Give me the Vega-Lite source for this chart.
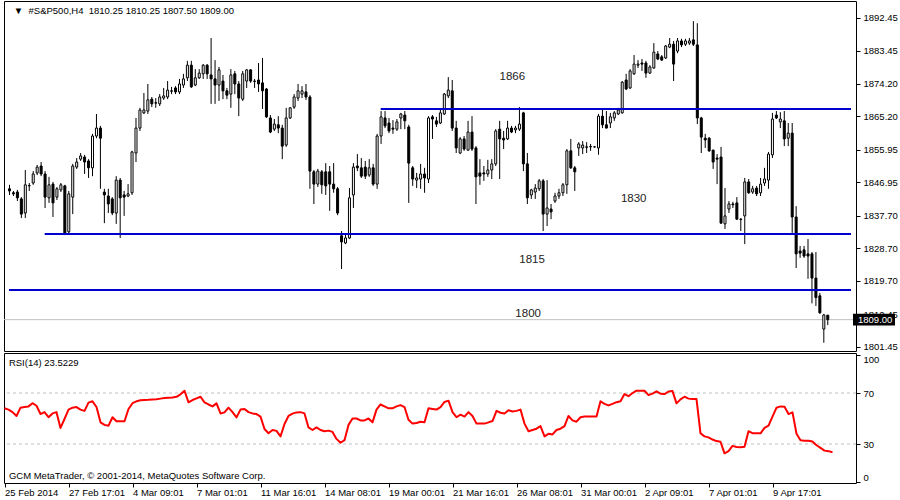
{
"$schema": "https://vega.github.io/schema/vega-lite/v6.json",
"background": "white",
"padding": {"left": 3, "top": 0, "right": 2, "bottom": 0},
"bounds": "flush",
"spacing": 2,
"datasets": {
"k": [
{"i":0,"o":1845.2,"h":1846.3,"l":1843.5,"c":1844.6,"r":58},
{"i":1,"o":1844.1,"h":1844.6,"l":1843.2,"c":1843.8,"r":57},
{"i":2,"o":1844.3,"h":1844.9,"l":1841.8,"c":1842.7,"r":55},
{"i":3,"o":1842.4,"h":1842.9,"l":1837.1,"c":1838.2,"r":52},
{"i":4,"o":1838.5,"h":1850.4,"l":1837.1,"c":1846.3,"r":58.5},
{"i":5,"o":1846.0,"h":1846.8,"l":1844.6,"c":1846.1,"r":59},
{"i":6,"o":1846.8,"h":1850.1,"l":1846.3,"c":1849.3,"r":59.5},
{"i":7,"o":1849.6,"h":1851.8,"l":1849.0,"c":1851.2,"r":62},
{"i":8,"o":1851.5,"h":1852.6,"l":1848.7,"c":1849.3,"r":60},
{"i":9,"o":1849.3,"h":1850.1,"l":1839.9,"c":1842.9,"r":53.5},
{"i":10,"o":1842.7,"h":1848.5,"l":1841.3,"c":1846.3,"r":55},
{"i":11,"o":1846.5,"h":1847.1,"l":1837.4,"c":1841.3,"r":51},
{"i":12,"o":1842.9,"h":1845.7,"l":1842.1,"c":1845.2,"r":54},
{"i":13,"o":1844.9,"h":1846.8,"l":1844.3,"c":1846.3,"r":55},
{"i":14,"o":1846.0,"h":1846.3,"l":1832.4,"c":1833.0,"r":42.6},
{"i":15,"o":1833.3,"h":1844.6,"l":1832.7,"c":1843.8,"r":49.6},
{"i":16,"o":1842.9,"h":1852.1,"l":1838.2,"c":1851.5,"r":57},
{"i":17,"o":1851.2,"h":1853.7,"l":1850.7,"c":1852.6,"r":58.5},
{"i":18,"o":1853.4,"h":1855.1,"l":1852.9,"c":1854.3,"r":59},
{"i":19,"o":1854.0,"h":1854.6,"l":1849.3,"c":1852.6,"r":57},
{"i":20,"o":1852.9,"h":1853.4,"l":1848.2,"c":1851.0,"r":56},
{"i":21,"o":1851.0,"h":1860.4,"l":1848.7,"c":1859.8,"r":62.5},
{"i":22,"o":1859.8,"h":1865.9,"l":1859.2,"c":1862.0,"r":63.5},
{"i":23,"o":1862.0,"h":1862.6,"l":1845.2,"c":1859.2,"r":59},
{"i":24,"o":1844.3,"h":1845.2,"l":1835.7,"c":1843.5,"r":47},
{"i":25,"o":1843.2,"h":1845.2,"l":1838.5,"c":1841.0,"r":45},
{"i":26,"o":1842.4,"h":1842.9,"l":1837.9,"c":1838.5,"r":44.4},
{"i":27,"o":1838.5,"h":1848.7,"l":1835.5,"c":1847.6,"r":51},
{"i":28,"o":1847.6,"h":1848.2,"l":1831.6,"c":1842.7,"r":47.8},
{"i":29,"o":1843.5,"h":1844.6,"l":1837.7,"c":1842.9,"r":47.8},
{"i":30,"o":1843.2,"h":1846.5,"l":1842.9,"c":1843.8,"r":47.8},
{"i":31,"o":1844.1,"h":1855.7,"l":1843.5,"c":1855.4,"r":57.5},
{"i":32,"o":1855.1,"h":1864.8,"l":1852.6,"c":1862.0,"r":62},
{"i":33,"o":1862.0,"h":1867.6,"l":1861.2,"c":1867.0,"r":63.5},
{"i":34,"o":1866.2,"h":1871.7,"l":1865.9,"c":1867.0,"r":64.3},
{"i":35,"o":1866.7,"h":1874.2,"l":1865.9,"c":1869.8,"r":64.6},
{"i":36,"o":1870.0,"h":1870.6,"l":1867.8,"c":1868.7,"r":64.7},
{"i":37,"o":1869.0,"h":1870.3,"l":1867.6,"c":1868.9,"r":64.9},
{"i":38,"o":1868.7,"h":1871.4,"l":1868.1,"c":1870.6,"r":65.1},
{"i":39,"o":1870.3,"h":1873.1,"l":1869.8,"c":1870.9,"r":65.6},
{"i":40,"o":1870.6,"h":1875.0,"l":1870.0,"c":1872.5,"r":66.1},
{"i":41,"o":1872.3,"h":1873.4,"l":1871.4,"c":1872.2,"r":66.3},
{"i":42,"o":1873.1,"h":1873.6,"l":1871.4,"c":1872.0,"r":66.5},
{"i":43,"o":1872.0,"h":1875.6,"l":1871.4,"c":1874.2,"r":67},
{"i":44,"o":1873.9,"h":1877.0,"l":1873.1,"c":1875.6,"r":69},
{"i":45,"o":1875.9,"h":1880.6,"l":1875.0,"c":1879.4,"r":71.8},
{"i":46,"o":1879.4,"h":1880.6,"l":1873.1,"c":1873.4,"r":62.7},
{"i":47,"o":1873.9,"h":1878.3,"l":1873.6,"c":1875.9,"r":64.5},
{"i":48,"o":1875.9,"h":1878.3,"l":1875.6,"c":1877.2,"r":65.8},
{"i":49,"o":1877.0,"h":1879.7,"l":1875.6,"c":1879.4,"r":67.1},
{"i":50,"o":1879.4,"h":1879.7,"l":1875.6,"c":1877.0,"r":62.7},
{"i":51,"o":1876.7,"h":1886.9,"l":1868.7,"c":1875.6,"r":61},
{"i":52,"o":1875.6,"h":1880.8,"l":1868.7,"c":1873.9,"r":59.5},
{"i":53,"o":1873.9,"h":1878.9,"l":1869.5,"c":1878.1,"r":61.9},
{"i":54,"o":1875.0,"h":1876.7,"l":1870.0,"c":1872.3,"r":54},
{"i":55,"o":1872.3,"h":1873.1,"l":1870.0,"c":1871.1,"r":54.8},
{"i":56,"o":1871.4,"h":1878.3,"l":1867.6,"c":1876.7,"r":58.5},
{"i":57,"o":1877.0,"h":1877.8,"l":1871.4,"c":1874.2,"r":55},
{"i":58,"o":1874.2,"h":1875.0,"l":1865.3,"c":1870.3,"r":50.9},
{"i":59,"o":1870.0,"h":1877.8,"l":1869.5,"c":1877.0,"r":57},
{"i":60,"o":1875.0,"h":1878.3,"l":1873.1,"c":1878.1,"r":57.5},
{"i":61,"o":1878.1,"h":1878.3,"l":1874.5,"c":1875.0,"r":55},
{"i":62,"o":1875.0,"h":1875.6,"l":1873.1,"c":1874.9,"r":54},
{"i":63,"o":1875.3,"h":1880.0,"l":1872.0,"c":1874.2,"r":53.5},
{"i":64,"o":1874.5,"h":1881.4,"l":1867.3,"c":1872.3,"r":51.5},
{"i":65,"o":1872.8,"h":1873.1,"l":1864.8,"c":1865.1,"r":41.8},
{"i":66,"o":1864.8,"h":1865.6,"l":1860.6,"c":1860.9,"r":38.4},
{"i":67,"o":1861.7,"h":1864.5,"l":1861.2,"c":1863.1,"r":41},
{"i":68,"o":1862.9,"h":1865.3,"l":1860.6,"c":1862.0,"r":40.3},
{"i":69,"o":1862.0,"h":1862.9,"l":1853.4,"c":1857.0,"r":36},
{"i":70,"o":1857.3,"h":1867.6,"l":1856.8,"c":1864.8,"r":45.7},
{"i":71,"o":1864.8,"h":1867.8,"l":1864.5,"c":1867.6,"r":52},
{"i":72,"o":1867.8,"h":1871.4,"l":1867.3,"c":1870.6,"r":53.8},
{"i":73,"o":1870.3,"h":1874.2,"l":1869.5,"c":1872.3,"r":54.8},
{"i":74,"o":1871.4,"h":1873.6,"l":1870.3,"c":1872.3,"r":55},
{"i":75,"o":1872.0,"h":1874.2,"l":1869.8,"c":1870.6,"r":54},
{"i":76,"o":1870.6,"h":1871.1,"l":1845.2,"c":1850.1,"r":43},
{"i":77,"o":1849.9,"h":1850.4,"l":1841.0,"c":1846.5,"r":41},
{"i":78,"o":1846.5,"h":1850.7,"l":1845.7,"c":1850.1,"r":43},
{"i":79,"o":1849.9,"h":1850.4,"l":1843.8,"c":1846.3,"r":41},
{"i":80,"o":1849.9,"h":1852.3,"l":1843.5,"c":1846.0,"r":40},
{"i":81,"o":1849.9,"h":1851.5,"l":1839.1,"c":1846.5,"r":40.5},
{"i":82,"o":1846.5,"h":1852.3,"l":1844.1,"c":1845.2,"r":39.5},
{"i":83,"o":1845.2,"h":1845.7,"l":1837.9,"c":1838.5,"r":34},
{"i":84,"o":1832.2,"h":1833.5,"l":1823.0,"c":1830.5,"r":31},
{"i":85,"o":1830.2,"h":1832.7,"l":1829.9,"c":1831.6,"r":33},
{"i":86,"o":1831.6,"h":1845.4,"l":1831.3,"c":1842.7,"r":45},
{"i":87,"o":1843.5,"h":1852.3,"l":1839.9,"c":1851.2,"r":50},
{"i":88,"o":1851.5,"h":1854.8,"l":1850.1,"c":1851.0,"r":50},
{"i":89,"o":1851.0,"h":1853.7,"l":1848.2,"c":1848.7,"r":48.5},
{"i":90,"o":1851.2,"h":1852.9,"l":1847.9,"c":1848.7,"r":48.5},
{"i":91,"o":1849.0,"h":1853.4,"l":1848.5,"c":1851.0,"r":50},
{"i":92,"o":1851.0,"h":1852.1,"l":1846.0,"c":1846.5,"r":47},
{"i":93,"o":1846.5,"h":1860.4,"l":1845.2,"c":1859.8,"r":57},
{"i":94,"o":1859.8,"h":1866.7,"l":1857.6,"c":1865.1,"r":61},
{"i":95,"o":1864.8,"h":1866.7,"l":1862.0,"c":1862.6,"r":59.5},
{"i":96,"o":1863.4,"h":1864.8,"l":1860.6,"c":1861.2,"r":58},
{"i":97,"o":1862.0,"h":1864.2,"l":1860.4,"c":1861.7,"r":58},
{"i":98,"o":1861.7,"h":1864.5,"l":1861.2,"c":1863.7,"r":59.5},
{"i":99,"o":1864.8,"h":1866.2,"l":1861.7,"c":1865.9,"r":60.5},
{"i":100,"o":1865.6,"h":1866.7,"l":1861.7,"c":1864.0,"r":59},
{"i":101,"o":1862.3,"h":1862.9,"l":1841.3,"c":1852.3,"r":49},
{"i":102,"o":1851.0,"h":1851.5,"l":1846.0,"c":1847.9,"r":46},
{"i":103,"o":1847.6,"h":1849.6,"l":1845.4,"c":1848.2,"r":46.5},
{"i":104,"o":1847.9,"h":1852.1,"l":1845.2,"c":1849.3,"r":47.5},
{"i":105,"o":1849.3,"h":1851.0,"l":1844.1,"c":1848.2,"r":47},
{"i":106,"o":1847.9,"h":1865.3,"l":1846.8,"c":1864.8,"r":58},
{"i":107,"o":1865.1,"h":1865.6,"l":1859.0,"c":1864.5,"r":57.5},
{"i":108,"o":1864.0,"h":1865.1,"l":1862.3,"c":1863.1,"r":57},
{"i":109,"o":1863.4,"h":1867.0,"l":1863.1,"c":1866.2,"r":59},
{"i":110,"o":1865.9,"h":1871.7,"l":1865.6,"c":1871.4,"r":63},
{"i":111,"o":1870.9,"h":1876.1,"l":1870.3,"c":1872.5,"r":64},
{"i":112,"o":1872.3,"h":1875.3,"l":1861.2,"c":1862.0,"r":55},
{"i":113,"o":1862.0,"h":1864.0,"l":1855.1,"c":1856.5,"r":51},
{"i":114,"o":1855.1,"h":1859.5,"l":1854.8,"c":1859.0,"r":53},
{"i":115,"o":1859.0,"h":1859.8,"l":1855.7,"c":1856.2,"r":51.5},
{"i":116,"o":1855.9,"h":1864.0,"l":1855.7,"c":1860.9,"r":55},
{"i":117,"o":1860.9,"h":1865.3,"l":1855.7,"c":1856.2,"r":52},
{"i":118,"o":1856.5,"h":1857.0,"l":1841.0,"c":1848.5,"r":46},
{"i":119,"o":1849.6,"h":1853.4,"l":1846.3,"c":1848.7,"r":46},
{"i":120,"o":1849.6,"h":1851.5,"l":1847.4,"c":1849.3,"r":46},
{"i":121,"o":1849.3,"h":1853.2,"l":1848.5,"c":1850.4,"r":47},
{"i":122,"o":1850.4,"h":1853.4,"l":1847.9,"c":1852.1,"r":48},
{"i":123,"o":1852.1,"h":1861.7,"l":1851.5,"c":1861.2,"r":56},
{"i":124,"o":1861.7,"h":1864.0,"l":1847.9,"c":1859.0,"r":54.5},
{"i":125,"o":1859.2,"h":1861.2,"l":1856.2,"c":1858.7,"r":54},
{"i":126,"o":1859.0,"h":1864.0,"l":1858.7,"c":1862.0,"r":56.5},
{"i":127,"o":1862.0,"h":1862.6,"l":1860.6,"c":1860.9,"r":55.5},
{"i":128,"o":1861.5,"h":1862.6,"l":1860.6,"c":1862.0,"r":56},
{"i":129,"o":1861.7,"h":1867.8,"l":1861.2,"c":1863.1,"r":57},
{"i":130,"o":1866.2,"h":1866.5,"l":1850.1,"c":1852.1,"r":46},
{"i":131,"o":1852.1,"h":1855.1,"l":1841.0,"c":1842.7,"r":40},
{"i":132,"o":1843.5,"h":1845.2,"l":1842.4,"c":1844.9,"r":41},
{"i":133,"o":1844.3,"h":1846.5,"l":1842.4,"c":1845.4,"r":42},
{"i":134,"o":1845.2,"h":1847.9,"l":1844.6,"c":1847.4,"r":44},
{"i":135,"o":1847.4,"h":1847.9,"l":1833.5,"c":1838.2,"r":36},
{"i":136,"o":1838.2,"h":1847.6,"l":1834.9,"c":1839.9,"r":38},
{"i":137,"o":1839.6,"h":1841.0,"l":1836.8,"c":1838.8,"r":37.5},
{"i":138,"o":1841.8,"h":1844.1,"l":1841.3,"c":1843.2,"r":41},
{"i":139,"o":1843.2,"h":1845.2,"l":1842.4,"c":1844.1,"r":42},
{"i":140,"o":1844.1,"h":1846.8,"l":1843.2,"c":1846.3,"r":44},
{"i":141,"o":1846.3,"h":1856.2,"l":1843.8,"c":1855.7,"r":52},
{"i":142,"o":1855.7,"h":1859.0,"l":1850.7,"c":1851.0,"r":48.5},
{"i":143,"o":1851.0,"h":1851.5,"l":1844.6,"c":1849.9,"r":47.5},
{"i":144,"o":1856.5,"h":1858.1,"l":1854.3,"c":1857.6,"r":51},
{"i":145,"o":1856.5,"h":1858.4,"l":1854.8,"c":1857.3,"r":51.5},
{"i":146,"o":1856.8,"h":1858.1,"l":1855.1,"c":1856.7,"r":51.5},
{"i":147,"o":1856.8,"h":1857.6,"l":1855.7,"c":1856.9,"r":51.5},
{"i":148,"o":1856.8,"h":1857.0,"l":1856.6,"c":1856.8,"r":51.5},
{"i":149,"o":1856.5,"h":1865.9,"l":1854.6,"c":1865.3,"r":63.5},
{"i":150,"o":1865.3,"h":1867.3,"l":1862.0,"c":1862.9,"r":61.5},
{"i":151,"o":1862.9,"h":1866.7,"l":1861.9,"c":1862.0,"r":60.3},
{"i":152,"o":1863.4,"h":1866.2,"l":1862.0,"c":1865.1,"r":61.5},
{"i":153,"o":1864.8,"h":1866.7,"l":1864.0,"c":1866.2,"r":62.8},
{"i":154,"o":1865.9,"h":1867.6,"l":1865.6,"c":1867.0,"r":63.5},
{"i":155,"o":1866.2,"h":1875.0,"l":1866.0,"c":1874.7,"r":69.2},
{"i":156,"o":1875.3,"h":1877.0,"l":1872.5,"c":1872.8,"r":67.5},
{"i":157,"o":1873.1,"h":1878.3,"l":1872.8,"c":1877.8,"r":70},
{"i":158,"o":1877.0,"h":1882.2,"l":1876.7,"c":1879.7,"r":71.8},
{"i":159,"o":1879.4,"h":1880.8,"l":1878.6,"c":1879.7,"r":71.8},
{"i":160,"o":1880.0,"h":1881.1,"l":1877.8,"c":1879.7,"r":71.8},
{"i":161,"o":1880.0,"h":1880.6,"l":1875.9,"c":1877.2,"r":68.3},
{"i":162,"o":1877.2,"h":1879.4,"l":1877.0,"c":1878.9,"r":69.5},
{"i":163,"o":1878.6,"h":1885.5,"l":1878.4,"c":1883.0,"r":71.3},
{"i":164,"o":1882.5,"h":1883.3,"l":1880.8,"c":1881.1,"r":69.5},
{"i":165,"o":1881.7,"h":1882.2,"l":1880.6,"c":1880.8,"r":69.2},
{"i":166,"o":1881.4,"h":1885.0,"l":1881.1,"c":1884.7,"r":71.2},
{"i":167,"o":1884.4,"h":1886.9,"l":1884.1,"c":1885.2,"r":71.5},
{"i":168,"o":1885.2,"h":1886.1,"l":1875.0,"c":1879.7,"r":61.9},
{"i":169,"o":1883.3,"h":1886.9,"l":1882.7,"c":1886.1,"r":65},
{"i":170,"o":1886.1,"h":1886.7,"l":1884.4,"c":1885.0,"r":67.1},
{"i":171,"o":1885.2,"h":1886.7,"l":1884.7,"c":1886.1,"r":65.6},
{"i":172,"o":1885.5,"h":1886.9,"l":1885.0,"c":1886.1,"r":65.3},
{"i":173,"o":1886.4,"h":1891.6,"l":1884.7,"c":1885.2,"r":65.3},
{"i":174,"o":1885.0,"h":1891.0,"l":1863.1,"c":1864.8,"r":38.4},
{"i":175,"o":1864.8,"h":1865.1,"l":1855.1,"c":1859.5,"r":36},
{"i":176,"o":1859.2,"h":1860.4,"l":1856.5,"c":1858.7,"r":35.2},
{"i":177,"o":1859.2,"h":1859.5,"l":1855.4,"c":1855.7,"r":33.5},
{"i":178,"o":1855.9,"h":1856.0,"l":1850.7,"c":1852.6,"r":32.3},
{"i":179,"o":1853.7,"h":1854.8,"l":1846.5,"c":1853.4,"r":31.8},
{"i":180,"o":1854.0,"h":1856.8,"l":1835.5,"c":1835.7,"r":22.7},
{"i":181,"o":1835.5,"h":1845.4,"l":1834.1,"c":1837.7,"r":24.5},
{"i":182,"o":1839.6,"h":1841.8,"l":1838.5,"c":1841.0,"r":28.5},
{"i":183,"o":1841.0,"h":1841.6,"l":1839.9,"c":1840.8,"r":27.6},
{"i":184,"o":1841.3,"h":1842.9,"l":1836.6,"c":1836.8,"r":27.5},
{"i":185,"o":1836.8,"h":1837.1,"l":1833.5,"c":1836.7,"r":27.9},
{"i":186,"o":1837.7,"h":1848.2,"l":1829.9,"c":1847.1,"r":40},
{"i":187,"o":1847.1,"h":1847.9,"l":1843.8,"c":1844.1,"r":38.5},
{"i":188,"o":1844.3,"h":1846.0,"l":1843.8,"c":1845.2,"r":38.4},
{"i":189,"o":1845.4,"h":1846.0,"l":1843.2,"c":1843.8,"r":38.4},
{"i":190,"o":1844.1,"h":1848.2,"l":1843.2,"c":1846.5,"r":42.6},
{"i":191,"o":1846.8,"h":1851.0,"l":1846.0,"c":1847.9,"r":44.4},
{"i":192,"o":1847.6,"h":1855.4,"l":1845.2,"c":1854.8,"r":51.5},
{"i":193,"o":1854.6,"h":1866.2,"l":1853.7,"c":1864.5,"r":58.5},
{"i":194,"o":1865.6,"h":1866.7,"l":1864.5,"c":1864.8,"r":59.5},
{"i":195,"o":1863.7,"h":1866.4,"l":1862.0,"c":1864.5,"r":59.3},
{"i":196,"o":1864.0,"h":1866.7,"l":1857.0,"c":1859.0,"r":53.5},
{"i":197,"o":1859.2,"h":1863.4,"l":1857.0,"c":1860.6,"r":54.8},
{"i":198,"o":1860.6,"h":1863.4,"l":1833.0,"c":1837.4,"r":38},
{"i":199,"o":1837.4,"h":1840.4,"l":1823.3,"c":1827.2,"r":33},
{"i":200,"o":1828.0,"h":1829.4,"l":1826.1,"c":1827.4,"r":32.6},
{"i":201,"o":1828.3,"h":1829.4,"l":1826.1,"c":1826.6,"r":32.6},
{"i":202,"o":1827.2,"h":1831.3,"l":1820.3,"c":1826.6,"r":32},
{"i":203,"o":1827.2,"h":1827.7,"l":1813.5,"c":1820.5,"r":29},
{"i":204,"o":1820.5,"h":1827.7,"l":1812.8,"c":1815.1,"r":27},
{"i":205,"o":1815.6,"h":1816.4,"l":1810.6,"c":1810.9,"r":24.8},
{"i":206,"o":1806.4,"h":1810.6,"l":1802.6,"c":1810.3,"r":24.4},
{"i":207,"o":1810.25,"h":1810.25,"l":1807.5,"c":1809.0,"r":23.5229}
],
"lv": [{"p":1867.3,"s":93.9},{"p":1832.7,"s":8.9},{"p":1817.2,"s":-0.125}],
"lb": [{"t":"1866","i":127.2,"p":1876.1},{"t":"1830","i":157.9,"p":1842.4},{"t":"1815","i":132.2,"p":1825.5},{"t":"1800","i":131.2,"p":1810.6}]
},
"vconcat": [
{
"width": 852,
"height": 350,
"layer": [
{"data": {"values": [{}]},
 "mark": {"type": "rule", "color": "#C0C0C0", "strokeWidth": 1, "clip": true},
 "encoding": {
  "y": {"datum": 1809, "type": "quantitative",
   "scale": {"domain": [1800.33, 1897.15], "nice": false, "zero": false},
   "axis": {"orient": "right", "title": null, "values": [1801.45, 1810.45, 1819.7, 1828.7, 1837.7, 1846.95, 1855.95, 1865.2, 1874.2, 1883.45, 1892.45], "tickCount": 20, "format": ".2f", "domain": false, "grid": false, "tickSize": 4, "tickColor": "black", "labelPadding": 3, "labelOverlap": false, "labelFont": "Liberation Sans", "labelFontSize": 9.5, "labelColor": "black"}}
 }},
{"data": {"name": "k"},
 "mark": {"type": "rule", "color": "black", "strokeWidth": 1, "clip": true},
 "encoding": {
  "x": {"field": "i", "type": "quantitative", "scale": {"domain": [-0.125, 212.875], "nice": false, "zero": false}, "axis": null},
  "y": {"field": "l", "type": "quantitative"},
  "y2": {"field": "h"}
 }},
{"data": {"name": "k"},
 "mark": {"type": "bar", "size": 2, "stroke": "black", "strokeWidth": 1, "clip": true},
 "encoding": {
  "x": {"field": "i", "type": "quantitative"},
  "y": {"field": "o", "type": "quantitative"},
  "y2": {"field": "c"},
  "fill": {"condition": {"test": "datum.c >= datum.o", "value": "white"}, "value": "black"}
 }},
{"data": {"name": "lv"},
 "mark": {"type": "rule", "color": "#0000CD", "strokeWidth": 2, "clip": true},
 "encoding": {
  "x": {"field": "s", "type": "quantitative"},
  "x2": {"datum": 212.875},
  "y": {"field": "p", "type": "quantitative"}
 }},
{"data": {"name": "lb"},
 "mark": {"type": "text", "font": "Liberation Sans", "fontSize": 11.5, "color": "#222222", "align": "center", "baseline": "middle"},
 "encoding": {
  "x": {"field": "i", "type": "quantitative"},
  "y": {"field": "p", "type": "quantitative"},
  "text": {"field": "t"}
 }},
{"data": {"values": [{}]},
 "mark": {"type": "text", "font": "Liberation Sans", "fontSize": 9.5, "color": "black", "align": "left", "baseline": "middle", "text": "▼\u00a0\u00a0#S&P500,H4\u00a0\u00a01810.25 1810.25 1807.50 1809.00"},
 "encoding": {
  "x": {"datum": 1.1, "type": "quantitative"},
  "y": {"datum": 1894.4, "type": "quantitative"}
 }},
{"data": {"values": [{}]},
 "mark": {"type": "rect", "color": "black", "clip": false, "xOffset": 2, "x2Offset": 44},
 "encoding": {
  "x": {"datum": 212.875, "type": "quantitative"},
  "x2": {"datum": 212.875},
  "y": {"datum": 1810.65, "type": "quantitative"},
  "y2": {"datum": 1807.35}
 }},
{"data": {"values": [{}]},
 "mark": {"type": "text", "clip": false, "font": "Liberation Sans", "fontSize": 9.5, "color": "white", "align": "left", "baseline": "middle", "dx": 7, "text": "1809.00"},
 "encoding": {
  "x": {"datum": 212.875, "type": "quantitative"},
  "y": {"datum": 1809, "type": "quantitative"}
 }}
]
},
{
"width": 852,
"height": 130,
"layer": [
{"data": {"values": [{}]},
 "mark": {"type": "rule", "color": "#C0C0C0", "strokeWidth": 1, "strokeDash": [3, 3], "clip": true},
 "encoding": {
  "y": {"datum": 70, "type": "quantitative",
   "scale": {"domain": [-0.6, 101.4], "nice": false, "zero": false},
   "axis": {"orient": "right", "title": null, "values": [0, 30, 70, 100], "tickCount": 10, "domain": false, "grid": false, "tickSize": 4, "tickColor": "black", "labelPadding": 3, "labelOverlap": false, "labelFont": "Liberation Sans", "labelFontSize": 9.5, "labelColor": "black", "labelFlush": 3}}
 }},
{"data": {"values": [{}]},
 "mark": {"type": "rule", "color": "#C0C0C0", "strokeWidth": 1, "strokeDash": [3, 3], "clip": true},
 "encoding": {
  "y": {"datum": 30, "type": "quantitative"}
 }},
{"data": {"name": "k"},
 "mark": {"type": "line", "color": "#FF0000", "strokeWidth": 2, "strokeJoin": "round", "clip": true},
 "encoding": {
  "x": {"field": "i", "type": "quantitative",
   "scale": {"domain": [-0.125, 212.875], "nice": false, "zero": false},
   "axis": {"orient": "bottom", "title": null, "values": [0, 16, 32, 48, 64, 80, 96, 112, 128, 144, 160, 176, 192], "tickCount": 30,
    "labelExpr": "['25 Feb 2014','27 Feb 17:01','4 Mar 09:01','7 Mar 01:01','11 Mar 16:01','14 Mar 08:01','19 Mar 00:01','21 Mar 16:01','26 Mar 08:01','31 Mar 00:01','2 Apr 09:01','7 Apr 01:01','9 Apr 17:01'][round(datum.value/16)]",
    "domain": false, "grid": false, "tickSize": 4, "tickColor": "black", "labelAlign": "left", "labelPadding": 0, "labelFlush": false, "labelOverlap": false, "labelFont": "Liberation Sans", "labelFontSize": 9.5, "labelColor": "black"}},
  "y": {"field": "r", "type": "quantitative"}
 }},
{"data": {"values": [{}]},
 "mark": {"type": "text", "font": "Liberation Sans", "fontSize": 9.5, "color": "black", "align": "left", "baseline": "middle", "text": "RSI(14) 23.5229"},
 "encoding": {
  "x": {"datum": 1.1, "type": "quantitative"},
  "y": {"datum": 93.5, "type": "quantitative"}
 }},
{"data": {"values": [{}]},
 "mark": {"type": "text", "font": "Liberation Sans", "fontSize": 9.5, "color": "black", "align": "left", "baseline": "middle", "text": "GCM MetaTrader, © 2001-2014, MetaQuotes Software Corp."},
 "encoding": {
  "x": {"datum": 1.1, "type": "quantitative"},
  "y": {"datum": 4.9, "type": "quantitative"}
 }}
]
}
],
"config": {
 "view": {"stroke": "black", "strokeWidth": 1},
 "font": "Liberation Sans",
 "axis": {"labelOverlap": false}
}
}
